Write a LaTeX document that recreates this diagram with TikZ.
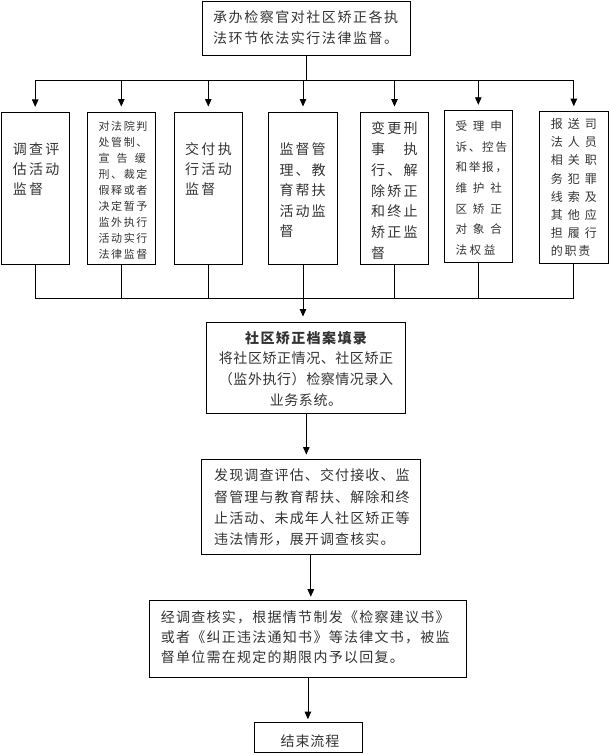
\documentclass[tikz,border=0pt]{standalone}
\usepackage{fontspec}
\setmainfont{Noto Sans CJK SC}
\usetikzlibrary{arrows.meta}
\newcommand\spr[2]{\makebox[#1][s]{#2}}
\newcommand\fs[3]{\fontsize{#1pt}{#3pt}\selectfont\addfontfeature{LetterSpace=#2}}
\begin{document}
\begin{tikzpicture}[x=1pt,y=-1pt,
  box/.style={draw, line width=0.95pt, inner sep=0pt},
  txt/.style={inner sep=0pt, anchor=base west, text=black!80},
  ln/.style={line width=0.8pt},
  arr/.style={ln, -{Triangle[width=6.5pt,length=7.5pt]}}]
\useasboundingbox (0,0) rectangle (609,754);
% boxes
\node[box, minimum width=208.5pt, minimum height=54pt] (top) at (306.3,28) {};
\node[box, minimum width=68.3pt, minimum height=151.7pt] (b1) at (35.2,188.2) {};
\node[box, minimum width=68pt, minimum height=152pt] (b2) at (121.3,188) {};
\node[box, minimum width=68pt, minimum height=152pt] (b3) at (208.3,188) {};
\node[box, minimum width=68.4pt, minimum height=152pt] (b4) at (303,188) {};
\node[box, minimum width=68.4pt, minimum height=152pt] (b5) at (394.5,188) {};
\node[box, minimum width=68pt, minimum height=152.4pt] (b6) at (478.3,186.5) {};
\node[box, minimum width=69pt, minimum height=151.6pt] (b7) at (573.8,187.5) {};
\node[box, minimum width=198.7pt, minimum height=91pt] (r1) at (306.3,367.5) {};
\node[box, minimum width=218.4pt, minimum height=95pt] (r2) at (310.8,506.5) {};
\node[box, minimum width=317.7pt, minimum height=77pt] (r3) at (307.9,639.2) {};
\node[box, minimum width=108.3pt, minimum height=30pt] (r4) at (308.2,737.7) {};
% connectors
\coordinate (busT) at (0,80);
\coordinate (busB) at (0,298);
\draw[ln] (top.south) -- (top.south |- busT);
\draw[ln] (b1.north |- busT) -- (b7.north |- busT);
\foreach \b in {b1,b2,b3,b4,b5,b6,b7}
  \draw[arr, shorten >=5pt] (\b.north |- busT) -- (\b.north);
\foreach \b in {b1,b2,b3,b4,b5,b6,b7}
  \draw[ln] (\b.south) -- (\b.south |- busB);
\draw[ln] (b1.south |- busB) -- (b7.south |- busB);
\draw[arr, shorten >=5pt] (b4.south |- busB) -- (b4.south |- r1.north);
\draw[arr, shorten >=4pt] (r1.south) -- (r1.south |- r2.north);
\draw[arr, shorten >=3.5pt] (r2.south) -- (r2.south |- r3.north);
\draw[arr, shorten >=3pt] (r3.south) -- (r3.south |- r4.north);
% texts
\node[txt] (t0) at (213,22.3) {\parbox[t]{200pt}{\fs{14}{11}{21}承办检察官对社区矫正各执\\法环节依法实行法律监督。}};
\node[txt] (t1) at (12.7,154.6) {\parbox[t]{60pt}{\fs{14}{0}{20}\spr{46.6pt}{调 查 评}\\\spr{46.6pt}{估 活 动}\\\spr{30.3pt}{监 督}}};
\node[txt] (t2) at (98.3,130.2) {\parbox[t]{60pt}{\fs{11}{0}{16}\spr{47.4pt}{对 法 院 判}\\\spr{47.4pt}{处 管 制 、}\\\spr{47.4pt}{宣 告 缓}\\\spr{47.4pt}{刑 、 裁 定}\\\spr{47.4pt}{假 释 或 者}\\\spr{47.4pt}{决 定 暂 予}\\\spr{47.4pt}{监 外 执 行}\\\spr{47.4pt}{活 动 实 行}\\\spr{47.4pt}{法 律 监 督}}};
\node[txt] (t3) at (185,154.6) {\parbox[t]{60pt}{\fs{14}{0}{20}\spr{46.6pt}{交 付 执}\\\spr{46.6pt}{行 活 动}\\\spr{30.3pt}{监 督}}};
\node[txt] (t4) at (279.3,154.6) {\parbox[t]{60pt}{\fs{14}{0}{20.6}\spr{45.7pt}{监 督 管}\\\spr{45.7pt}{理 、 教}\\\spr{45.7pt}{育 帮 扶}\\\spr{45.7pt}{活 动 监}\\督}};
\node[txt] (t5) at (371,133.6) {\parbox[t]{60pt}{\fs{14}{0}{20.8}\spr{46.3pt}{变 更 刑}\\\spr{46.3pt}{事\hfill 执}\\\spr{46.3pt}{行 、 解}\\\spr{46.3pt}{除 矫 正}\\\spr{46.3pt}{和 终 止}\\\spr{46.3pt}{矫 正 监}\\督}};
\node[txt] (t6) at (455.3,130.4) {\parbox[t]{60pt}{\fs{11.6}{0}{20.7}\spr{46.4pt}{受 理 申}\\\spr{46.4pt}{诉 、 控 告}\\\spr{46.4pt}{和 举 报 ，}\\\spr{46.4pt}{维 护 社}\\\spr{46.4pt}{区 矫 正}\\\spr{46.4pt}{对 象 合}\\\spr{40pt}{法 权 益}}};
\node[txt] (t7) at (550.7,128.6) {\parbox[t]{60pt}{\fs{12}{0}{18.2}\spr{46pt}{报 送 司}\\\spr{46pt}{法 人 员}\\\spr{46pt}{相 关 职}\\\spr{46pt}{务 犯 罪}\\\spr{46pt}{线 索 及}\\\spr{46pt}{其 他 应}\\\spr{46pt}{担 履 行}\\\spr{37.7pt}{的 职 责}}};
\node[txt, anchor=base] (t8) at (306,343) {\parbox[t]{196pt}{\centering\fs{14}{4}{20.8}{\bfseries\addfontfeature{LetterSpace=10}社区矫正档案填录}\\将社区矫正情况、社区矫正\\（监外执行）检察情况录入\\业务系统。}};
\node[txt] (t9) at (214,480.7) {\parbox[t]{210pt}{\fs{14}{8}{21.3}发现调查评估、交付接收、监\\督管理与教育帮扶、解除和终\\止活动、未成年人社区矫正等\\违法情形，展开调查核实。}};
\node[txt] (t10) at (160.7,622) {\parbox[t]{310pt}{\fs{14}{9}{20.3}经调查核实，根据情节制发《检察建议书》\\或者《纠正违法通知书》等法律文书，被监\\督单位需在规定的期限内予以回复。}};
\node[txt, anchor=base] (t11) at (310,746) {\fs{14}{6}{14}结束流程};
\end{tikzpicture}
\end{document}
